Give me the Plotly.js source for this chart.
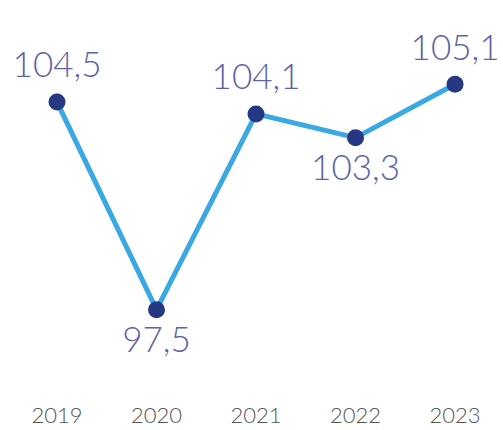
<!DOCTYPE html>
<html>
<head>
<meta charset="utf-8">
<script src="https://cdn.plot.ly/plotly-3.0.1.min.js"></script>
<style>html,body{margin:0;padding:0;background:#fff;}#chart{width:503px;height:430px;}</style>
</head>
<body>
<div id="chart"></div>
<script>
const years = ['2019', '2020', '2021', '2022', '2023'];
const values = [104.5, 97.5, 104.1, 103.3, 105.1];
const labelPositions = ['top center', 'bottom center', 'top center', 'bottom center', 'top center'];

const lineTrace = {
  x: years,
  y: values,
  type: 'scatter',
  mode: 'lines+markers',
  line: {color: '#3aa9e1', width: 5},
  marker: {color: '#263783', size: 17},
  cliponaxis: false,
  hoverinfo: 'none'
};

const labelTrace = {
  x: years,
  y: values,
  type: 'scatter',
  mode: 'markers+text',
  marker: {size: 24, opacity: 0, color: '#ffffff'},
  texttemplate: '%{y:.1f}',
  textposition: labelPositions,
  textfont: {family: 'Lato, sans-serif', size: 35, color: '#5c63a7', weight: 300},
  cliponaxis: false,
  hoverinfo: 'none'
};

const layout = {
  width: 503,
  height: 430,
  margin: {l: 0, r: 0, t: 0, b: 50},
  paper_bgcolor: '#ffffff',
  plot_bgcolor: '#ffffff',
  separators: ',.',
  showlegend: false,
  xaxis: {
    type: 'category',
    range: [-0.573, 4.482],
    showgrid: false, zeroline: false, showline: false, ticks: '',
    ticklabelstandoff: 20,
    tickfont: {family: 'Lato, sans-serif', size: 22, color: '#555555', weight: 300},
    fixedrange: true
  },
  yaxis: {
    range: [95.13, 107.94],
    visible: false,
    fixedrange: true
  }
};

Plotly.newPlot('chart', [lineTrace, labelTrace], layout, {displayModeBar: false, staticPlot: true});
</script>
</body>
</html>
